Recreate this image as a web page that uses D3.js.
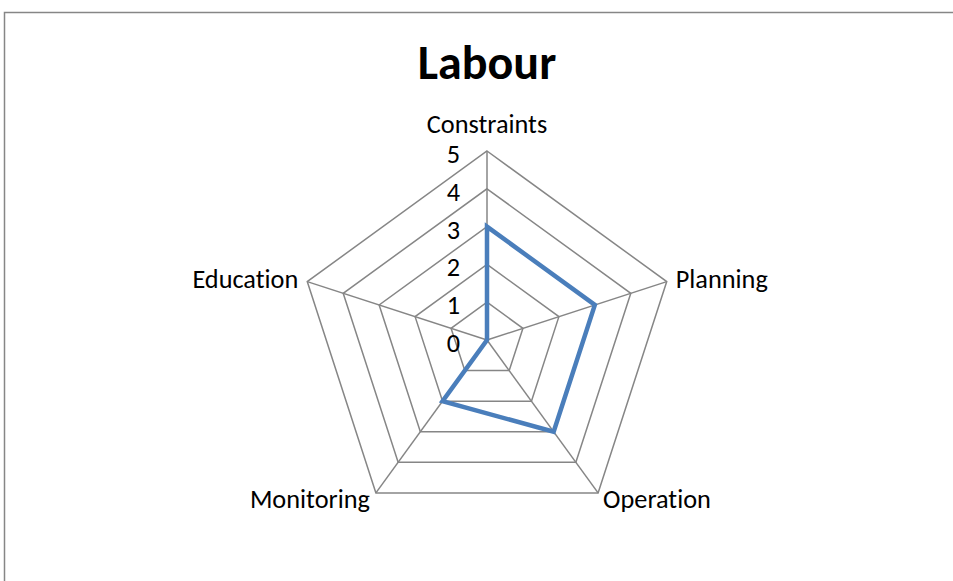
<!DOCTYPE html>
<html><head><meta charset="utf-8">
<script src="https://cdn.jsdelivr.net/npm/d3@7"></script>
<style>body{margin:0;background:#fff}svg{display:block}text{font-variant-ligatures:none;font-feature-settings:"liga" 0}</style>
</head><body>
<script>
const categories = ["Constraints","Planning","Operation","Monitoring","Education"];
const values = [3,3,3,2,0];
const tickValues = [0,1,2,3,4,5];
const title = "Labour";

const W=953,H=581, cx=487, cy=340, R=189;
const svg=d3.select("body").append("svg").attr("width",W).attr("height",H);
svg.append("rect").attr("x",4.5).attr("y",12.5).attr("width",W+10).attr("height",H+10)
  .attr("fill","#fff").attr("stroke","#868686").attr("stroke-width",1.5);

const r=d3.scaleLinear().domain([0,5]).range([0,R]);
const ang=d3.scaleLinear().domain([0,categories.length]).range([0,2*Math.PI]);
const pt=(i,v)=>[cx+r(v)*Math.sin(ang(i)), cy-r(v)*Math.cos(ang(i))];
const line=d3.line();
const font="Calibri, Carlito, Lato, 'Open Sans', sans-serif";
const fs=26.3;

// grid polygons
tickValues.filter(t=>t>0).forEach(t=>{
  svg.append("path").attr("d",line(categories.map((c,i)=>pt(i,t)))+"Z")
    .attr("fill","none").attr("stroke","#868686").attr("stroke-width",1.5);
});
// spokes
categories.forEach((c,i)=>{
  svg.append("path").attr("d",line([pt(i,0),pt(i,5)]))
    .attr("stroke","#868686").attr("stroke-width",1.5);
});
// data
svg.append("path").attr("d",line(values.map((v,i)=>pt(i,v)))+"Z")
  .attr("fill","none").attr("stroke","#4a7ebb").attr("stroke-width",4.5).attr("stroke-linejoin","miter");

// tick labels
tickValues.forEach(t=>{
  svg.append("text").attr("x",cx-27).attr("y",cy-r(t)+3)
    .attr("text-anchor","end").attr("dominant-baseline","central")
    .attr("font-family",font).attr("font-size",fs).attr("fill","#000").text(t);
});

// category labels
const labelPos=[
  {dx:0,dy:-18,anchor:"middle"},
  {dx:9,dy:6,anchor:"start"},
  {dx:5,dy:15,anchor:"start"},
  {dx:-6,dy:15,anchor:"end"},
  {dx:-9,dy:6,anchor:"end"}
];
categories.forEach((c,i)=>{
  const p=pt(i,5), l=labelPos[i];
  svg.append("text").attr("x",p[0]+l.dx).attr("y",p[1]+l.dy)
    .attr("text-anchor",l.anchor).attr("font-family",font).attr("font-size",fs)
    .attr("fill","#000").text(c);
});

svg.append("text").attr("x",cx).attr("y",79).attr("text-anchor","middle")
  .attr("font-family",font).attr("font-size",48).attr("font-weight","bold").text(title);
</script>
</body></html>
